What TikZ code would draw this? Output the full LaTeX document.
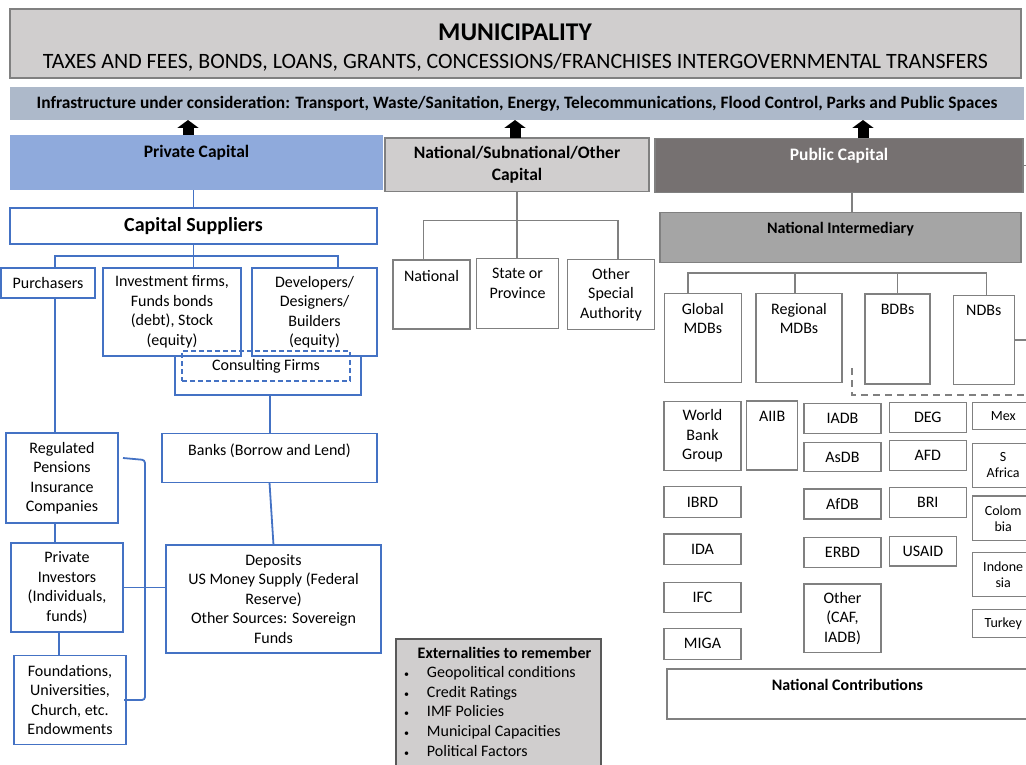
\documentclass[tikz,border=0pt]{standalone}
\usepackage{fontspec}
\setmainfont{Carlito}
\usetikzlibrary{arrows.meta}
\definecolor{blueline}{HTML}{4472C4}
\definecolor{privfill}{HTML}{8FAADC}
\definecolor{infrafill}{HTML}{ADB9CA}
\definecolor{palegray}{HTML}{D0CECE}
\definecolor{pubfill}{HTML}{767171}
\definecolor{intfill}{HTML}{A5A5A5}
\definecolor{grayline}{HTML}{808080}
\definecolor{darkline}{HTML}{595959}
\begin{document}
\begin{tikzpicture}[x=1pt,y=-1pt,
  every node/.style={inner sep=0pt, outer sep=0pt},
  basebox/.style={anchor=north west, align=center, font=\fontsize{16}{19.5}\selectfont},
  bbox/.style={basebox, draw=blueline, line width=1.5pt, fill=white},
  gbox/.style={basebox, draw=grayline, line width=1.3pt, fill=white},
  lbl/.style={anchor=north, yshift=-10pt, align=center, font=\fontsize{16}{19.5}\selectfont},
  tlab/.style={label={[lbl]north:{#1}}},
  narrowtxt/.style={font=\fontsize{14}{16}\selectfont},
  bline/.style={draw=blueline, line width=1.8pt},
  gline/.style={draw=grayline, line width=1.9pt},
  uparrow/.style={line width=11pt, -{Triangle[length=8pt,width=21pt]}}]
\useasboundingbox (0,0) rectangle (1026,765);
\clip (0,0) rectangle (1026,765);
% Text Node
\node[anchor=north west, draw=grayline, fill=palegray, line width=1.5pt, minimum width=1011pt, minimum height=69pt] (muni) at (10,9) {};
\node[anchor=base, font=\bfseries\fontsize{25.5}{30}\selectfont] (munitop) at (515,41) {MUNICIPALITY};
\node[anchor=base, font=\fontsize{21.9}{26}\selectfont] (munisub) at (515.5,68.5) {TAXES AND FEES, BONDS, LOANS, GRANTS, CONCESSIONS/FRANCHISES INTERGOVERNMENTAL TRANSFERS};
% Text Node
\node[anchor=north west, fill=infrafill, minimum width=1014pt, minimum height=33pt, font=\bfseries\fontsize{17.4}{20}\selectfont] (infra) at (10,87) {Infrastructure under consideration: Transport, Waste/Sanitation, Energy, Telecommunications, Flood Control, Parks and Public Spaces};

% Private capital
\node[basebox, fill=privfill, minimum width=373pt, minimum height=55pt, tlab={\bfseries\fontsize{17.5}{21}\selectfont Private Capital}] (priv) at (10,135) {};
\node[bbox, minimum width=367pt, minimum height=36pt, font=\bfseries\fontsize{20}{24}\selectfont] (supp) at (10,208) {Capital Suppliers};
\node[bbox, minimum width=94pt, minimum height=30pt] (purch) at (1,268) {Purchasers};
\node[bbox, minimum width=138pt, minimum height=88pt] (invest) at (103,268) {Investment firms,\\ Funds bonds\\ (debt), Stock\\ (equity)};
\node[bbox, minimum width=125pt, minimum height=88pt] (devel) at (252,268) {Developers/\\ Designers/\\ Builders\\ (equity)};
\node[basebox, draw=blueline, line width=1.2pt, dash pattern=on 5pt off 3pt, minimum width=168pt, minimum height=30pt] (consult) at (182,351) {Consulting Firms};
\node[bbox, minimum width=112pt, minimum height=90pt] (regp) at (6,433) {Regulated\\ Pensions\\ Insurance\\ Companies};
\node[bbox, minimum width=112pt, minimum height=89pt] (privinv) at (11,543) {Private\\ Investors\\ (Individuals,\\ funds)};
\node[bbox, minimum width=112pt, minimum height=89pt] (found) at (14,655.5) {Foundations,\\ Universities,\\ Church, etc.\\ Endowments};
\node[bbox, minimum width=215pt, minimum height=49pt, tlab={Banks (Borrow and Lend)}] (banks) at (162,433.5) {};
\node[bbox, minimum width=215pt, minimum height=108pt] (deps) at (166,545) {Deposits\\ US Money Supply (Federal\\ Reserve)\\ Other Sources: Sovereign\\ Funds};
\coordinate (cfl) at (175,356);
\coordinate (cfr) at (361,356);
\coordinate (cfb) at (270,395);
\coordinate (brt) at (123,458);
\coordinate (brb) at (124,700);
% Connection
\draw[bline] (supp.north) -- (supp.north |- priv.south);
\draw[bline] (supp.south) -- ++(0,12) coordinate (suppfork);
\draw[bline] ([xshift=7pt]purch.north) |- (suppfork) -| ([xshift=23.5pt]devel.north);
\draw[bline] (suppfork) -- (suppfork |- invest.north);
\draw[bline] (cfl) |- (cfb) -| (cfr);
\draw[bline] (cfb) -- (cfb |- banks.north);
\draw[bline] ([xshift=7pt]purch.south) -- ([xshift=7pt]purch.south |- regp.north);
\draw[bline] ([xshift=-7pt]regp.south) -- ([xshift=-7pt]regp.south |- privinv.north);
\draw[bline] ([xshift=-8pt]privinv.south) -- ([xshift=-8pt]privinv.south |- found.north);
\draw[bline, rounded corners=3pt] (brt) -- ++(22,2) |- (brb);
\draw[bline] (privinv.east) -- (privinv.east -| deps.west);
\draw[bline] (banks.south) -- (deps.north);

% National/Subnational/Other capital
\node[gbox, fill=palegray, minimum width=264pt, minimum height=53.5pt, font=\bfseries\fontsize{17.5}{22}\selectfont] (natcap) at (385,138) {National/Subnational/Other\\ Capital};
\node[gbox, minimum width=77pt, minimum height=69pt, tlab={National}] (natl) at (393,260) {};
\node[gbox, minimum width=82pt, minimum height=70pt, tlab={State or\\ Province}] (state) at (476.5,258.3) {};
\node[gbox, minimum width=86.5pt, minimum height=70pt] (osa) at (567.7,259.3) {Other\\ Special\\ Authority};
% Connection
\draw[gline] (natcap.south) -- ++(0,29) coordinate (natfork);
\draw[gline] ([xshift=-8pt]natl.north) |- (natfork) -| ([xshift=7pt]osa.north);
\draw[gline] (natfork) -- (natfork |- state.north);

% Public capital
\node[gbox, fill=pubfill, minimum width=368pt, minimum height=54.5pt, tlab={\color{white}\bfseries\fontsize{17.5}{21}\selectfont Public Capital}] (pubcap) at (655,138.3) {};
\node[gbox, fill=intfill, minimum width=361pt, minimum height=50pt, tlab={\bfseries National Intermediary}] (natint) at (660,212.7) {};
\node[gbox, minimum width=77pt, minimum height=89pt, tlab={Global\\ MDBs}] (gmdb) at (664.3,293.3) {};
\node[gbox, minimum width=86pt, minimum height=89pt, tlab={Regional\\ MDBs}] (rmdb) at (756,293.3) {};
\node[gbox, minimum width=65pt, minimum height=90pt, tlab={BDBs}] (bdbs) at (865,294) {};
\node[gbox, minimum width=61pt, minimum height=89pt, tlab={NDBs}] (ndbs) at (953.3,295.7) {};
\coordinate (dsh) at (852.3,368);
% Connection
\draw[gline] ([xshift=13pt]pubcap.south) -- ([xshift=13pt]pubcap.south |- natint.north);
\draw[gline] (pubcap.east) -- ++(10,0);
\draw[gline] ([xshift=-14.7pt]gmdb.north) -- ++(0,-20) coordinate (pubfork) -| ([xshift=2.7pt]ndbs.north);
\draw[gline] ([xshift=-4pt]rmdb.north) -- ([xshift=-4pt]rmdb.north |- pubfork);
\draw[gline] (bdbs.north) -- (bdbs.north |- pubfork);
\draw[gline] (ndbs.east) -- ++(15,0);
\draw[gline, dash pattern=on 7pt off 5pt] (dsh) -- ++(0,27) -- ++(180,0);

% Text Node
\node[gbox, minimum width=77pt, minimum height=69pt] (wbg) at (664,401.7) {World\\ Bank\\ Group};
\node[gbox, minimum width=77pt, minimum height=30.6pt] (ibrd) at (664,486.7) {IBRD};
\node[gbox, minimum width=77pt, minimum height=30.3pt] (ida) at (664,534) {IDA};
\node[gbox, minimum width=77pt, minimum height=30pt] (ifc) at (664,582.7) {IFC};
\node[gbox, minimum width=77pt, minimum height=31pt] (miga) at (664,628.3) {MIGA};
\node[gbox, minimum width=51pt, minimum height=69pt, tlab={AIIB}] (aiib) at (746.7,401) {};
\node[gbox, minimum width=77pt, minimum height=30pt] (iadb) at (804,403.3) {IADB};
\node[gbox, minimum width=77pt, minimum height=29.4pt] (asdb) at (804,442.3) {AsDB};
\node[gbox, minimum width=77pt, minimum height=30pt] (afdb) at (804,489) {AfDB};
\node[gbox, minimum width=77pt, minimum height=30pt] (erbd) at (804,537.7) {ERBD};
\node[gbox, minimum width=77pt, minimum height=68.7pt] (othr) at (804,584) {Other\\ (CAF,\\ IADB)};
\node[gbox, minimum width=77pt, minimum height=30pt] (deg) at (889.3,402.3) {DEG};
\node[gbox, minimum width=77pt, minimum height=30pt] (afd) at (889.3,440.7) {AFD};
\node[gbox, minimum width=77pt, minimum height=30.4pt] (bri) at (889.3,487.3) {BRI};
\node[gbox, minimum width=67.4pt, minimum height=29.3pt] (usaid) at (889.3,536.7) {USAID};
\node[gbox, narrowtxt, minimum width=61pt, minimum height=27pt] (mex) at (972.7,402.3) {Mex};
\node[gbox, narrowtxt, minimum width=61pt, minimum height=44pt] (safr) at (972.7,443.3) {S\\ Africa};
\node[gbox, narrowtxt, minimum width=61pt, minimum height=44.7pt] (colom) at (972.7,496) {Colom\\ bia};
\node[gbox, narrowtxt, minimum width=61pt, minimum height=44.4pt] (indo) at (972.7,552.3) {Indone\\ sia};
\node[gbox, narrowtxt, minimum width=61pt, minimum height=28pt] (turk) at (972.7,609.3) {Turkey};
\node[gbox, line width=1.8pt, minimum width=361.5pt, minimum height=50pt, tlab={\bfseries National Contributions}] (natcon) at (666.7,669.3) {};

% Text Node
\node[anchor=north west, draw=darkline, fill=palegray, line width=1.3pt, minimum width=205pt, minimum height=140pt,
  label={[anchor=north, xshift=6pt, yshift=-8.3pt, font=\bfseries\fontsize{16}{19.5}\selectfont]north:{Externalities to remember}},
  label={[anchor=north west, xshift=8pt, yshift=-24.8pt, font=\fontsize{16}{19.7}\selectfont]north west:{\begin{tabular}{@{}l@{\hspace{18pt}}l@{}}{\fontsize{10}{12}\selectfont\textbullet} & Geopolitical conditions\\ {\fontsize{10}{12}\selectfont\textbullet} & Credit Ratings\\ {\fontsize{10}{12}\selectfont\textbullet} & IMF Policies\\ {\fontsize{10}{12}\selectfont\textbullet} & Municipal Capacities\\ {\fontsize{10}{12}\selectfont\textbullet} & Political Factors\end{tabular}}}] (extn) at (396,639) {};

% Connection
\draw[uparrow] ([xshift=-8.5pt]priv.north) -- ([xshift=-8.5pt]priv.north |- infra.south);
\draw[uparrow] ([xshift=-2pt]natcap.north) -- ([xshift=-2pt]natcap.north |- infra.south);
\draw[uparrow] ([xshift=24pt]pubcap.north) -- ([xshift=24pt]pubcap.north |- infra.south);
\end{tikzpicture}
\end{document}
